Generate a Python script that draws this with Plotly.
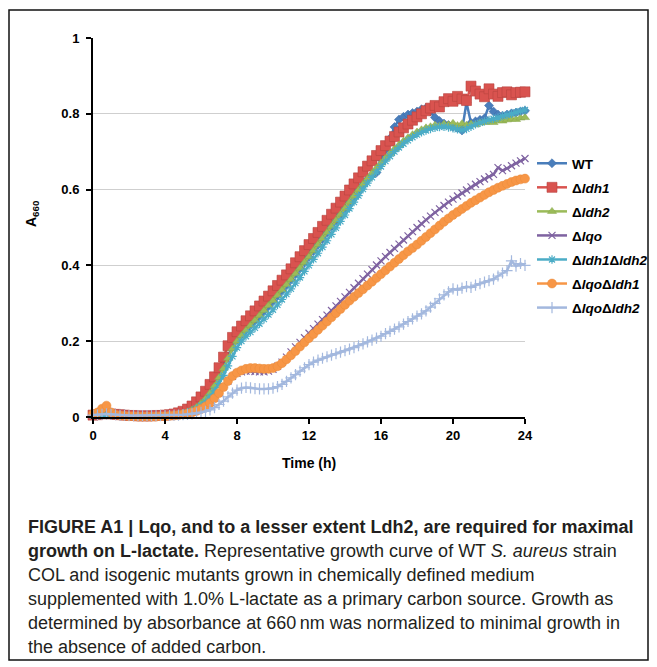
import plotly.graph_objects as go

# ---------------- data (A660 readings every 15 min, 0-24 h) ----------------
time_h = [i * 0.25 for i in range(97)]

wt = [0.005, 0.006, 0.007, 0.008, 0.007, 0.006, 0.005, 0.004,
      0.004, 0.003, 0.003, 0.003, 0.003, 0.003, 0.003, 0.004,
      0.004, 0.005, 0.007, 0.009, 0.012, 0.016, 0.022, 0.030,
      0.040, 0.053, 0.069, 0.088, 0.110, 0.134, 0.160, 0.184,
      0.203, 0.217, 0.230, 0.243, 0.255, 0.267, 0.280, 0.293,
      0.306, 0.320, 0.334, 0.348, 0.362, 0.377, 0.392, 0.407,
      0.422, 0.438, 0.454, 0.470, 0.486, 0.502, 0.518, 0.534,
      0.550, 0.566, 0.582, 0.598, 0.613, 0.627, 0.638, 0.645,
      0.680, 0.705, 0.735, 0.765, 0.785, 0.792, 0.798, 0.802,
      0.806, 0.812, 0.815, 0.806, 0.790, 0.781, 0.774, 0.770,
      0.766, 0.762, 0.756, 0.830, 0.776, 0.780, 0.784, 0.788,
      0.822, 0.806, 0.798, 0.795, 0.798, 0.801, 0.803, 0.806,
      0.808]

ldh1 = [0.005, 0.006, 0.008, 0.010, 0.008, 0.007, 0.006, 0.005,
        0.004, 0.004, 0.003, 0.003, 0.003, 0.003, 0.004, 0.004,
        0.005, 0.006, 0.008, 0.011, 0.015, 0.021, 0.029, 0.040,
        0.053, 0.068, 0.086, 0.106, 0.130, 0.158, 0.188, 0.210,
        0.225, 0.240, 0.254, 0.267, 0.280, 0.293, 0.306, 0.319,
        0.333, 0.347, 0.361, 0.375, 0.391, 0.407, 0.423, 0.439,
        0.455, 0.471, 0.487, 0.503, 0.519, 0.535, 0.551, 0.567,
        0.583, 0.599, 0.615, 0.631, 0.647, 0.662, 0.676, 0.690,
        0.703, 0.716, 0.728, 0.740, 0.752, 0.763, 0.773, 0.783,
        0.792, 0.800, 0.808, 0.815, 0.822, 0.818, 0.832, 0.840,
        0.833, 0.846, 0.839, 0.835, 0.873, 0.860, 0.852, 0.845,
        0.866, 0.852, 0.846, 0.856, 0.858, 0.850, 0.856, 0.857,
        0.858]

ldh2 = [0.004, 0.005, 0.006, 0.007, 0.006, 0.005, 0.004, 0.004,
        0.003, 0.003, 0.003, 0.002, 0.002, 0.002, 0.003, 0.003,
        0.004, 0.005, 0.006, 0.008, 0.010, 0.014, 0.019, 0.026,
        0.036, 0.048, 0.063, 0.082, 0.104, 0.128, 0.155, 0.180,
        0.200, 0.215, 0.229, 0.242, 0.255, 0.268, 0.281, 0.294,
        0.307, 0.321, 0.335, 0.349, 0.363, 0.378, 0.393, 0.408,
        0.423, 0.439, 0.455, 0.471, 0.487, 0.503, 0.519, 0.535,
        0.551, 0.567, 0.583, 0.599, 0.614, 0.629, 0.643, 0.657,
        0.670, 0.683, 0.695, 0.707, 0.718, 0.728, 0.737, 0.745,
        0.752, 0.758, 0.763, 0.766, 0.770, 0.768, 0.773, 0.771,
        0.775, 0.769, 0.774, 0.770, 0.773, 0.771, 0.776, 0.777,
        0.779, 0.777, 0.782, 0.781, 0.784, 0.786, 0.785, 0.789,
        0.790]

lqo = [0.006, 0.008, 0.012, 0.018, 0.010, 0.007, 0.005, 0.004,
       0.003, 0.003, 0.002, 0.002, 0.002, 0.002, 0.002, 0.003,
       0.003, 0.004, 0.005, 0.006, 0.008, 0.010, 0.013, 0.017,
       0.022, 0.029, 0.038, 0.050, 0.064, 0.080, 0.095, 0.107,
       0.115, 0.119, 0.121, 0.121, 0.120, 0.119, 0.119, 0.121,
       0.126, 0.134, 0.145, 0.158, 0.172, 0.185, 0.197, 0.209,
       0.221, 0.233, 0.245, 0.257, 0.269, 0.281, 0.293, 0.305,
       0.317, 0.329, 0.341, 0.353, 0.365, 0.377, 0.389, 0.401,
       0.412, 0.423, 0.434, 0.445, 0.456, 0.467, 0.478, 0.489,
       0.500, 0.510, 0.520, 0.530, 0.540, 0.549, 0.558, 0.567,
       0.575, 0.583, 0.591, 0.599, 0.607, 0.614, 0.621, 0.628,
       0.634, 0.640, 0.658, 0.650, 0.656, 0.663, 0.670, 0.676,
       0.682]

ldh1_ldh2 = [0.004, 0.004, 0.005, 0.006, 0.005, 0.004, 0.004, 0.003,
             0.003, 0.002, 0.002, 0.002, 0.002, 0.002, 0.002, 0.003,
             0.003, 0.004, 0.005, 0.007, 0.009, 0.012, 0.016, 0.022,
             0.030, 0.040, 0.053, 0.069, 0.088, 0.110, 0.135, 0.160,
             0.183, 0.200, 0.213, 0.224, 0.235, 0.246, 0.258, 0.270,
             0.283, 0.296, 0.310, 0.324, 0.338, 0.353, 0.368, 0.384,
             0.400, 0.416, 0.432, 0.448, 0.465, 0.482, 0.499, 0.516,
             0.533, 0.550, 0.567, 0.584, 0.601, 0.617, 0.632, 0.647,
             0.661, 0.675, 0.688, 0.700, 0.711, 0.721, 0.730, 0.738,
             0.745, 0.751, 0.756, 0.760, 0.763, 0.765, 0.766, 0.764,
             0.762, 0.759, 0.757, 0.760, 0.766, 0.772, 0.776, 0.780,
             0.784, 0.787, 0.790, 0.794, 0.797, 0.800, 0.804, 0.807,
             0.810]

lqo_ldh1 = [0.008, 0.012, 0.022, 0.030, 0.012, 0.006, 0.004, 0.003,
            0.002, 0.002, 0.001, 0.001, 0.001, 0.001, 0.001, 0.002,
            0.002, 0.003, 0.004, 0.005, 0.007, 0.009, 0.012, 0.016,
            0.021, 0.028, 0.037, 0.049, 0.063, 0.079, 0.095, 0.108,
            0.117, 0.123, 0.127, 0.129, 0.129, 0.128, 0.127, 0.127,
            0.129, 0.134, 0.142, 0.152, 0.163, 0.174, 0.186, 0.197,
            0.208, 0.219, 0.230, 0.241, 0.252, 0.263, 0.274, 0.285,
            0.296, 0.307, 0.317, 0.327, 0.337, 0.347, 0.357, 0.367,
            0.377, 0.387, 0.397, 0.407, 0.417, 0.427, 0.437, 0.446,
            0.455, 0.465, 0.475, 0.485, 0.495, 0.505, 0.515, 0.524,
            0.533, 0.541, 0.549, 0.557, 0.565, 0.572, 0.579, 0.586,
            0.593, 0.599, 0.605, 0.610, 0.615, 0.620, 0.624, 0.627,
            0.629]

lqo_ldh2 = [0.005, 0.006, 0.007, 0.008, 0.007, 0.006, 0.005, 0.005,
            0.004, 0.004, 0.004, 0.004, 0.004, 0.004, 0.004, 0.004,
            0.004, 0.004, 0.005, 0.005, 0.006, 0.007, 0.008, 0.010,
            0.012, 0.015, 0.019, 0.025, 0.033, 0.042, 0.053, 0.063,
            0.071, 0.076, 0.078, 0.077, 0.075, 0.074, 0.074, 0.074,
            0.076, 0.080, 0.086, 0.094, 0.103, 0.112, 0.121, 0.130,
            0.138, 0.145, 0.150, 0.155, 0.159, 0.163, 0.167, 0.171,
            0.175, 0.179, 0.183, 0.188, 0.193, 0.198, 0.203, 0.208,
            0.213, 0.220, 0.226, 0.232, 0.238, 0.245, 0.252, 0.259,
            0.266, 0.272, 0.280, 0.290, 0.300, 0.312, 0.322, 0.330,
            0.338, 0.335, 0.340, 0.344, 0.342, 0.348, 0.352, 0.356,
            0.360, 0.364, 0.372, 0.380, 0.386, 0.412, 0.398, 0.405,
            0.400]

series_names = ["<b>WT</b>", "<b>Δ<i>ldh1</i></b>", "<b>Δ<i>ldh2</i></b>",
                "<b>Δ<i>lqo</i></b>", "<b>Δ<i>ldh1</i>Δ<i>ldh2</i></b>",
                "<b>Δ<i>lqo</i>Δ<i>ldh1</i></b>", "<b>Δ<i>lqo</i>Δ<i>ldh2</i></b>"]
series_values = [wt, ldh1, ldh2, lqo, ldh1_ldh2, lqo_ldh1, lqo_ldh2]

x_ticks = [0, 4, 8, 12, 16, 20, 24]
y_ticks = [0, 0.2, 0.4, 0.6, 0.8, 1]
y_tick_text = ["0", "0.2", "0.4", "0.6", "0.8", "1"]

caption_lines = [
    "<b>FIGURE A1 | Lqo, and to a lesser extent Ldh2, are required for maximal</b>",
    "<b>growth on L-lactate.</b> Representative growth curve of WT <i>S. aureus</i> strain",
    "COL and isogenic mutants grown in chemically defined medium",
    "supplemented with 1.0% L-lactate as a primary carbon source. Growth as",
    "determined by absorbance at 660\u2009nm was normalized to minimal growth in",
    "the absence of added carbon.",
]

# ---------------- styling ----------------
styles = [
    dict(color="#4a7ebb", symbol="diamond", size=7, mline="#3d6ca8", mw=0.5),
    dict(color="#d9534f", symbol="square", size=10, mline="#b8443f", mw=0.6),
    dict(color="#9bbb59", symbol="triangle-up", size=8, mline="#86a64a", mw=0.5),
    dict(color="#7f63a1", symbol="x-thin-open", size=7, mline="#7f63a1", mw=1.2),
    dict(color="#4bacc6", symbol="asterisk-open", size=7, mline="#4bacc6", mw=1.2),
    dict(color="#f79646", symbol="circle", size=9, mline="#e88a3a", mw=0.5),
    dict(color="#a3b8de", symbol="cross-thin-open", size=8, mline="#a3b8de", mw=1.2),
]

W, H = 657, 667
L, R, T, B = 93, 525, 38, 417
def px_x(p):
    return (p - L) / (R - L)
def px_y(p):
    return (B - p) / (B - T)

fig = go.Figure()
for i, (name, vals, st) in enumerate(zip(series_names, series_values, styles)):
    fig.add_trace(go.Scatter(
        x=time_h, y=vals, name=name, mode="lines+markers",
        legendgroup=f"g{i}",
        line=dict(color=st["color"], width=2.5),
        marker=dict(symbol=st["symbol"], size=st["size"], color=st["color"],
                    line=dict(color=st["mline"], width=st["mw"])),
        cliponaxis=False,
    ))

axis_font = dict(family="Liberation Sans, Arial, sans-serif", size=13, color="#000", weight="bold")

fig.update_layout(
    width=W, height=H,
    margin=dict(l=L, r=W - R, t=T, b=H - B, pad=0, autoexpand=False),
    paper_bgcolor="white", plot_bgcolor="white",
    showlegend=True,
    legend=dict(x=px_x(532), y=px_y(148), xanchor="left", yanchor="top",
                font=dict(family="Liberation Sans, Arial, sans-serif", size=13.5, color="#000"),
                tracegroupgap=3.5, bgcolor="rgba(0,0,0,0)", itemwidth=30),
    xaxis=dict(range=[0, 24], tickvals=x_ticks, ticktext=[str(v) for v in x_ticks],
               showgrid=False, zeroline=False, showline=True, linecolor="#000", linewidth=2,
               ticks="outside", ticklen=5, tickwidth=1.5, tickcolor="#000",
               tickfont=axis_font, fixedrange=True, automargin=False),
    yaxis=dict(range=[0, 1], tickvals=y_ticks, ticktext=y_tick_text,
               showgrid=True, gridcolor="#cfcfcf", gridwidth=1, zeroline=False,
               showline=True, linecolor="#000", linewidth=2,
               ticks="outside", ticklen=5, tickwidth=1.5, tickcolor="#000",
               tickfont=axis_font, ticklabelstandoff=4, fixedrange=True, automargin=False),
)

# axis titles
fig.add_annotation(x=px_x(32), y=px_y(214), xref="paper", yref="paper",
                   text="<b>A<sub>660</sub></b>", textangle=-90, showarrow=False,
                   font=dict(family="Liberation Sans, Arial, sans-serif", size=14, color="#000"),
                   xanchor="center", yanchor="middle")
fig.add_annotation(x=px_x(309), y=px_y(463), xref="paper", yref="paper",
                   text="<b>Time (h)</b>", showarrow=False,
                   font=dict(family="Liberation Sans, Arial, sans-serif", size=14, color="#000"),
                   xanchor="center", yanchor="middle")

# caption
for k, line in enumerate(caption_lines):
    fig.add_annotation(x=px_x(26), y=px_y(527 + 24 * k), xref="paper", yref="paper",
                       text=line, showarrow=False, align="left",
                       font=dict(family="Liberation Sans Narrow, Arial Narrow, Liberation Sans, sans-serif",
                                 size=18, color="#231f20"),
                       xanchor="left", yanchor="middle")

# frame
fig.add_shape(type="rect", xref="paper", yref="paper",
              x0=px_x(9), x1=px_x(648), y0=px_y(10), y1=px_y(660),
              line=dict(color="#111", width=1.5), fillcolor="rgba(0,0,0,0)", layer="below")

fig.write_html("out.html")
